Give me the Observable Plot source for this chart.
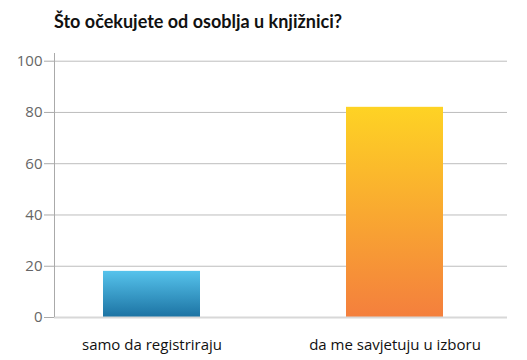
<!DOCTYPE html>
<html><head><meta charset="utf-8">
<script src="https://cdn.jsdelivr.net/npm/d3@7"></script>
<script src="https://cdn.jsdelivr.net/npm/@observablehq/plot@0.6"></script>
<style>
body{margin:0;background:#fff;font-family:Lato,"Open Sans",sans-serif;}
#title{position:absolute;left:54px;top:10px;font-size:18px;font-weight:bold;color:#111;white-space:nowrap;}
#chart{position:absolute;left:0;top:40px;}
</style></head>
<body>
<div id="title">Što očekujete od osoblja u knjižnici?</div>
<div id="chart"></div>
<script>
const categories = ["samo da registriraju", "da me savjetuju u izboru"];
const values = [18, 82];
const yTicks = [0, 20, 40, 60, 80, 100];
const gradients = ["gBlue", "gOrange"];

const data = categories.map((c, i) => ({cat: c, val: values[i], grad: gradients[i]}));
const yMax = 103;

const plot = Plot.plot({
  width: 527,
  height: 320,
  marginLeft: 54,
  marginRight: 20,
  marginTop: 13,
  marginBottom: 43,
  style: {fontFamily: "'Open Sans', Lato, sans-serif", background: "#fff"},
  x: {domain: categories, paddingInner: 0.6, paddingOuter: 0.231, align: 0.436, label: null},
  y: {domain: [0, yMax], label: null},
  marks: [
    Plot.ruleY(yTicks.filter(d => d > 0), {stroke: "#bdbdbd", strokeWidth: 1}),
    ...data.map(d => Plot.barY([d], {x: "cat", y: "val", fill: `url(#${d.grad})`})),
    Plot.ruleY([0], {stroke: "#d8d8d8", strokeWidth: 2}),
    Plot.axisY({ticks: yTicks, tickSize: 10, tickPadding: 2, fontSize: 15, color: "#666", stroke: "#aaa", label: null}),
    Plot.axisX({tickSize: 0, tickPadding: 22, fontSize: 15, color: "#111", label: null})
  ]
});

const svgNS = "http://www.w3.org/2000/svg";
const defs = document.createElementNS(svgNS, "defs");
function addGrad(id, top, bottom) {
  const g = document.createElementNS(svgNS, "linearGradient");
  g.setAttribute("id", id);
  g.setAttribute("x1", "0"); g.setAttribute("y1", "0");
  g.setAttribute("x2", "0"); g.setAttribute("y2", "1");
  [[0, top], [1, bottom]].forEach(([o, c]) => {
    const s = document.createElementNS(svgNS, "stop");
    s.setAttribute("offset", o);
    s.setAttribute("stop-color", c);
    g.appendChild(s);
  });
  defs.appendChild(g);
}
addGrad("gBlue", "#56c3ec", "#1c73a3");
addGrad("gOrange", "#fed324", "#f47f3d");
plot.insertBefore(defs, plot.firstChild);

// y axis line, positioned from the library's own scales
const xs = plot.scale("x"), ys = plot.scale("y");
const axisLine = document.createElementNS(svgNS, "line");
const ax = Math.min(...xs.range) + 0.5;
axisLine.setAttribute("x1", ax); axisLine.setAttribute("x2", ax);
axisLine.setAttribute("y1", ys.apply(0)); axisLine.setAttribute("y2", ys.apply(yMax));
axisLine.setAttribute("stroke", "#aaa");
plot.appendChild(axisLine);

document.getElementById("chart").appendChild(plot);
</script>
</body></html>
